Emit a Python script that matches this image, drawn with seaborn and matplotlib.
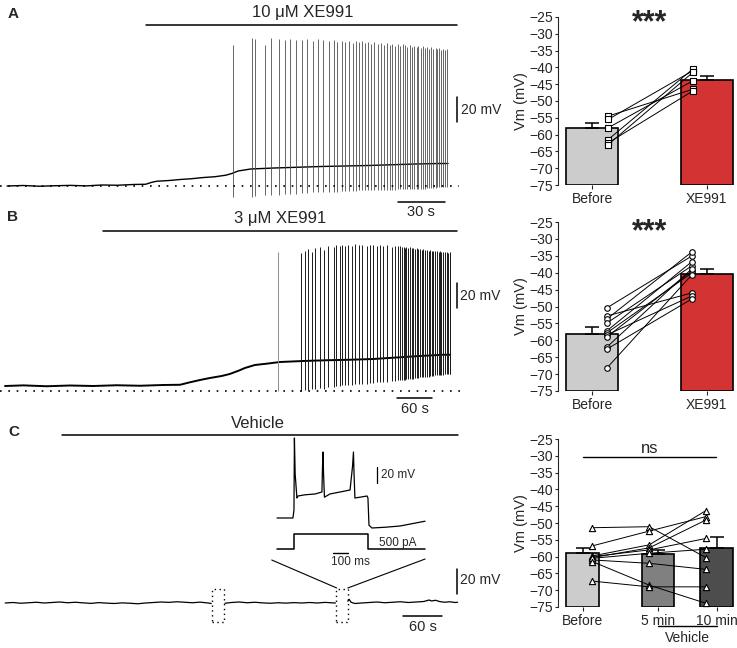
"""
Membrane potential traces with XE991 / vehicle and paired Vm bar charts
"""

import numpy as np
import pandas as pd
import matplotlib
matplotlib.use("Agg")
import matplotlib.pyplot as plt
from matplotlib.patches import Rectangle
import seaborn as sns

W, H = 737, 648

# ---------------- bar chart data (mV) ----------------
groups_ab = ["Before", "XE991"]
a_mean = [-58.0, -43.8]
a_sem = [1.5, 1.2]
a_before = [-54.5, -55.5, -58.0, -61.5, -62.5, -63.0]
a_xe991 = [-46.5, -41.0, -44.0, -40.5, -47.0, -41.5]

b_mean = [-58.1, -40.4]
b_sem = [2.0, 1.5]
b_before = [-50.4, -52.8, -53.7, -54.9, -57.2, -57.8, -58.4, -59.0, -62.0, -62.6, -68.2]
b_xe991 = [-35.1, -46.0, -33.9, -38.0, -36.8, -40.1, -46.9, -39.5, -38.9, -47.8, -40.7]

groups_c = ["Before", "5 min", "10 min"]
c_mean = [-58.8, -59.3, -57.4]
c_sem = [1.4, 1.2, 3.3]
c_before = [-51.4, -56.8, -59.8, -60.3, -60.0, -61.0, -60.5, -61.5, -67.3]
c_5min = [-51.1, -52.4, -56.5, -57.4, -58.0, -62.0, -59.0, -68.5, -69.0]
c_10min = [-60.3, -48.1, -46.3, -49.1, -54.6, -63.8, -57.8, -73.9, -69.0]

# ---------------- trace A (s, mV) ----------------
a_trace_t = [4.5, 15, 25, 35, 45, 55, 65, 75, 85, 93, 97, 100, 108, 115, 122,
             130, 137, 144, 148, 152, 160, 175, 190, 205, 220, 235, 250, 265, 280, 286]
a_trace_vm = [-72, -71.6, -72.2, -71.8, -71.5, -71.9, -71.2, -71.4, -70.8, -70.6, -69, -68.2,
              -67.6, -66.8, -66.2, -65.2, -64.6, -63.4, -62, -60, -58.4, -57.6, -57, -56.4,
              -56, -55.6, -55, -54.4, -54, -54]
a_spike_t = [149, 161, 163, 169, 173, 178, 182, 185, 189, 193, 196, 200, 203, 206, 210,
             213, 215, 218, 220, 223, 225, 227, 229, 231, 233, 235, 237, 239, 241, 243,
             245, 247, 249, 250.5, 252, 254, 255.5, 257, 258.5, 260, 261.5, 263, 264.5, 266,
             267, 268.5, 270, 271, 272.5, 274, 275, 276.5, 278, 279, 280, 281.5, 283, 284, 285]
a_spike_peak = [40.8, 46.4, 46.0, 41.0, 46.2, 45.6, 45.0, 46.0, 45.2, 44.6,
                45.8, 44.0, 45.4, 44.8, 44.0, 45.0, 43.6, 44.4, 43.0, 44.2,
                42.8, 43.8, 43.0, 44.0, 42.4, 43.4, 42.0, 43.0, 41.6, 42.6,
                41.0, 42.4, 40.8, 42.0, 40.4, 41.6, 40.0, 41.4, 40.6, 39.6,
                41.0, 39.2, 40.4, 39.0, 40.0, 38.6, 39.8, 38.4, 39.4, 38.0,
                39.0, 37.8, 38.6, 37.4, 38.2, 37.0, 37.8, 36.8, 37.4]
a_spike_trough = [-81, -81, -80, -79.5, -79, -79, -78.5, -78, -78, -77.5,
                  -77.5, -77, -77, -77, -76.5, -76.5, -76.5, -76, -76, -76,
                  -76, -76, -75.5, -75.5, -75.5, -75.5, -75.5, -75, -75, -75,
                  -75, -75, -75, -75, -75, -74.5, -74.5, -74.5, -74.5, -74.5,
                  -74.5, -74.5, -74, -74, -74, -74, -74, -74, -73.5, -73.5,
                  -73.5, -73.5, -73.5, -73, -73, -73, -73, -73, -73]

# ---------------- trace B (s, mV) ----------------
b_trace_t = [8.6, 40, 80, 120, 160, 200, 240, 280, 309, 326, 345, 360, 380, 394, 410,
             420, 437, 460, 480, 520, 560, 600, 640, 680, 720, 760, 772]
b_trace_vm = [-68, -67.5, -68.2, -67.6, -68, -67.4, -67.8, -67.2, -67, -65, -63, -61.6,
              -60, -58.4, -55.6, -53.6, -51.2, -50, -48.8, -48, -47.4, -47, -46.4, -45.2,
              -44, -43, -43]
b_first_spike = [477, -72, 39]
b_spike_t = [517, 523, 529, 535, 540, 549, 555, 563, 572, 577,
             583, 586, 592, 597, 603, 609, 615, 620, 629, 635,
             640, 646, 652, 657, 663, 672, 677, 683, 686, 689,
             692, 695, 697, 700, 703, 706, 709, 712, 715, 717,
             720, 723, 726, 729, 732, 735, 737, 740, 743, 746,
             749, 752, 755, 757, 760, 763, 766, 769, 771, 772]
b_spike_peak = [38.4, 40.0, 41.5, 39.2, 42.6, 43.2, 41.0, 44.0, 43.0, 44.8,
                44.0, 45.2, 44.4, 45.0, 44.2, 45.4, 44.6, 45.0, 44.0, 45.2,
                44.6, 44.0, 45.0, 44.2, 44.8, 43.6, 44.4, 43.8, 44.2, 43.2,
                43.6, 42.8, 43.4, 42.4, 43.0, 42.2, 42.6, 41.8, 42.4, 41.6,
                42.0, 41.2, 41.6, 40.8, 41.2, 40.4, 40.8, 40.0, 40.4, 39.8,
                40.0, 39.4, 39.8, 39.2, 39.6, 39.0, 39.4, 38.8, 39.0, 38.6]
b_spike_trough = [-72, -71, -71.5, -70, -70.5, -69.5, -70, -69, -68.5, -68,
                  -68, -67.5, -67.5, -67, -67, -66.5, -66.5, -66, -66, -65.5,
                  -65.5, -65, -65, -64.5, -64.5, -64, -64, -63.5, -63.5, -63,
                  -63, -63, -62.5, -62.5, -62, -62, -62, -61.5, -61.5, -61.5,
                  -61, -61, -61, -60.5, -60.5, -60.5, -60, -60, -60, -59.5,
                  -59.5, -59.5, -59, -59, -59, -58.5, -58.5, -58.5, -58, -58]

# ---------------- trace C (s, mV), gaps at the two excerpts ----------------
c_trace_t = [8, 20, 32, 44, 56, 68, 80, 92, 104, 116, 128, 140, 152, 164, 176, 188, 200,
             212, 224, 236, 248, 260, 272, 284, 296, 308, 320, 325, np.nan,
             346, 356, 368, 380, 392, 404, 416, 428, 440, 452, 464, 476, 488, 500, 512, 516,
             np.nan,
             535, 537, 540, 546, 556, 568, 580, 592, 604, 616, 628, 640, 652, 660, 664, 670,
             676, 684, 692, 700, 704]
c_trace_vm = [-65.0, -64.6, -65.2, -64.8, -64.4, -65.0, -64.6, -64.2, -64.8, -64.4, -64.9,
              -65.3, -64.7, -65.1, -65.4, -64.9, -65.2, -65.6, -65.0, -64.6, -64.2, -64.5,
              -64.0, -64.4, -64.8, -64.3, -65.0, -65.4, np.nan,
              -65.2, -64.6, -64.2, -64.8, -64.4, -64.9, -65.2, -64.8, -65.1, -64.7, -65.0,
              -64.6, -65.0, -64.5, -64.9, -65.0, np.nan,
              -63.6, -62.0, -64.4, -65.4, -65.0, -64.6, -64.2, -64.8, -64.4, -64.0, -64.6,
              -64.2, -63.8, -62.6, -63.4, -62.8, -63.8, -64.4, -64.0, -64.6, -64.4]

# inset: step response (ms, mV) and injected current (ms, pA)
inset_t = [-115, -7, 0, 3, 8, 20, 27, 74, 142, 189, 193, 196, 200, 206, 243, 311, 379,
           396, 402, 406, 412, 446, 494, 500, 507, 527, 620, 717, 886]
inset_vm = [-65, -65, -55, 35, -10, -40, -37.5, -36, -35, -32.5, 0, 17.5, -10, -39, -35,
            -32.5, -30, 0, 17.5, -10, -40, -39, -37.5, -40, -74, -77.5, -76.5, -75, -69]
step_t = [-115, 0, 0, 500, 500, 886]
step_pa = [0, 0, 500, 500, 0, 0]


def px_axes(fig, x0, y0, x1, y1):
    ax = fig.add_axes([x0 / W, 1 - y1 / H, (x1 - x0) / W, (y1 - y0) / H])
    ax.set_facecolor("none")
    return ax


def bar_panel(ax, labels, pos, means, sems, colors, width, cols, pts_x, marker, msize, xlim):
    bars = pd.DataFrame({"pos": pos, "height": np.array(means) + 75, "group": labels})
    sns.barplot(data=bars, x="pos", y="height", hue="group", hue_order=labels,
                palette=colors, saturation=1, native_scale=True, width=width, bottom=-75,
                edgecolor="black", linewidth=1.2, errorbar=None, legend=False, ax=ax)
    ax.errorbar(pos, means, yerr=[np.zeros(len(sems)), sems], fmt="none", ecolor="black",
                elinewidth=1.1, capsize=5, capthick=1.1, zorder=1)
    n = len(cols[0])
    long = pd.DataFrame({"cell": np.tile(np.arange(n), len(cols)),
                         "x": np.repeat(pts_x, n),
                         "vm": np.concatenate(cols)})
    sns.lineplot(data=long, x="x", y="vm", units="cell", estimator=None, color="black",
                 lw=0.7, ax=ax, legend=False, zorder=3)
    sns.scatterplot(data=long, x="x", y="vm", marker=marker, s=msize, color="white",
                    edgecolor="black", linewidth=0.8, ax=ax, legend=False, zorder=4)
    ax.set_ylim(-75, -25)
    ax.set_xlim(*xlim)
    ax.set_yticks(np.arange(-75, -24, 5))
    ax.set_xticks(pos)
    ax.set_xticklabels(labels, fontsize=10)
    ax.tick_params(axis="y", labelsize=10, length=2.5, width=0.8, pad=1)
    ax.tick_params(axis="x", length=3, width=0.8, pad=2)
    ax.set_xlabel("")
    ax.set_ylabel("Vm (mV)", fontsize=10.5, labelpad=1)
    for s in ["top", "right", "bottom"]:
        ax.spines[s].set_visible(False)
    ax.spines["left"].set_linewidth(0.8)


sns.set_style("ticks")
plt.rcParams["font.family"] = ["Liberation Sans", "DejaVu Sans"]

fig = plt.figure(figsize=(W / 100, H / 100), dpi=100)

# ---------- A trace ----------
axA = px_axes(fig, 0, 0, 470, 215)
axA.plot(a_trace_t, a_trace_vm, color="black", lw=1.0)
axA.vlines(a_spike_t, a_spike_trough, a_spike_peak, color="0.3", lw=0.6)
axA.plot([0, 293], [-72, -72], color="black", lw=1.2, ls=(0, (1, 4)))
axA.plot([93, 292], [56.8, 56.8], color="black", lw=1.1)
axA.text(193, 66.4, "10 μM XE991", ha="center", va="center", fontsize=12)
axA.plot([291.7, 291.7], [-20.8, -0.8], color="black", lw=1.1, clip_on=False)
axA.text(294, -10.8, "20 mV", ha="left", va="center", fontsize=10)
axA.plot([254, 284], [-84.8, -84.8], color="black", lw=1.1)
axA.text(269, -92.8, "30 s", ha="center", va="center", fontsize=10.5)
axA.set_xlim(0, 300)
axA.set_ylim(-95.2, 76.8)
axA.axis("off")

# ---------- B trace ----------
axB = px_axes(fig, 0, 205, 470, 410)
axB.plot(b_trace_t, b_trace_vm, color="black", lw=1.4)
axB.vlines(b_first_spike[0], b_first_spike[1], b_first_spike[2], color="0.55", lw=0.7)
axB.vlines(b_spike_t, b_spike_trough, b_spike_peak, color="0.1", lw=0.7)
axB.plot([0, 790], [-72, -72], color="black", lw=1.2, ls=(0, (1, 4)))
axB.plot([177, 784], [56, 56], color="black", lw=1.1)
axB.text(480, 66.4, "3 μM XE991", ha="center", va="center", fontsize=12)
axB.plot([784, 784], [-5.6, 14.4], color="black", lw=1.1, clip_on=False)
axB.text(789, 4.4, "20 mV", ha="left", va="center", fontsize=10)
axB.plot([681, 741], [-77.6, -77.6], color="black", lw=1.1)
axB.text(711, -86.4, "60 s", ha="center", va="center", fontsize=10.5)
axB.set_xlim(0, 806)
axB.set_ylim(-87.2, 76.8)
axB.axis("off")

# ---------- C trace ----------
axC = px_axes(fig, 0, 415, 470, 648)
axC.plot(c_trace_t, c_trace_vm, color="black", lw=0.9)
for x0 in [326, 517]:
    axC.add_patch(Rectangle((x0, -80.2), 18, 26.4, fill=False, lw=1.0,
                            ls=(0, (1, 2.5)), edgecolor="black"))
axC.plot([418, 518], [-30.6, -53], color="black", lw=0.8)
axC.plot([654, 535], [-29.8, -53], color="black", lw=0.8)
axC.plot([95, 704], [69.4, 69.4], color="black", lw=1.1)
axC.text(397, 78.2, "Vehicle", ha="center", va="center", fontsize=12)
axC.plot([703, 703], [-58, -38], color="black", lw=1.1, clip_on=False)
axC.text(708, -47, "20 mV", ha="left", va="center", fontsize=10)
axC.plot([620, 680], [-75.4, -75.4], color="black", lw=1.1)
axC.text(650, -84.2, "60 s", ha="center", va="center", fontsize=10.5)
axC.set_xlim(0, 723)
axC.set_ylim(-101, 85.4)
axC.axis("off")

# inset voltage
axIv = px_axes(fig, 270, 430, 440, 530)
axIv.plot(inset_t, inset_vm, color="black", lw=0.9)
axIv.plot([561, 561], [-21, -1], color="black", lw=0.9)
axIv.text(585, -11, "20 mV", ha="left", va="center", fontsize=8.5)
axIv.set_xlim(-162, 987)
axIv.set_ylim(-80, 45)
axIv.axis("off")

# inset current
axIi = px_axes(fig, 270, 528, 440, 570)
axIi.plot(step_t, step_pa, color="black", lw=1.1)
axIi.text(575, 200, "500 pA", ha="left", va="center", fontsize=8.5)
axIi.plot([264, 364], [-133, -133], color="black", lw=1.0)
axIi.text(379, -433, "100 ms", ha="center", va="center", fontsize=8.5)
axIi.set_xlim(-162, 987)
axIi.set_ylim(-700, 700)
axIi.axis("off")

# ---------- bar charts ----------
ab_xlim = (-0.297, 1.24)
red = "#d33333"
grey = "#cccccc"

axA2 = px_axes(fig, 558, 17, 734, 185)
bar_panel(axA2, groups_ab, [0, 1], a_mean, a_sem, [grey, red], 0.454,
          [a_before, a_xe991], [0.14, 0.88], "s", 14, ab_xlim)
axA2.text(0.5, -27, "***", ha="center", va="center", fontsize=22, fontweight="bold")

axB2 = px_axes(fig, 558, 222, 734, 391)
bar_panel(axB2, groups_ab, [0, 1], b_mean, b_sem, [grey, red], 0.454,
          [b_before, b_xe991], [0.13, 0.87], "o", 16, ab_xlim)
axB2.text(0.5, -28, "***", ha="center", va="center", fontsize=22, fontweight="bold")

axC2 = px_axes(fig, 558, 439, 734, 607)
c_pos = [0, 1.29, 2.29]
bar_panel(axC2, groups_c, c_pos, c_mean, c_sem, [grey, "#808080", "#4d4d4d"], 0.55,
          [c_before, c_5min, c_10min], [0.17, 1.14, 2.11], "^", 20, (-0.419, 2.589))
axC2.plot([0, 2.28], [-30.5, -30.5], color="black", lw=1.0)
axC2.text(1.14, -27.7, "ns", ha="center", va="center", fontsize=12)
axC2.plot([1.29, 2.29], [-80.7, -80.7], color="black", lw=1.0, clip_on=False)
axC2.text(1.79, -84.2, "Vehicle", ha="center", va="center", fontsize=10)

# panel letters
for letter, (x, y) in {"A": (13, 14), "B": (13, 217), "C": (14, 432)}.items():
    fig.text(x / W, 1 - y / H, letter, ha="center", va="center", fontsize=11,
             fontweight="bold")

fig.savefig("out.png", dpi=100)
